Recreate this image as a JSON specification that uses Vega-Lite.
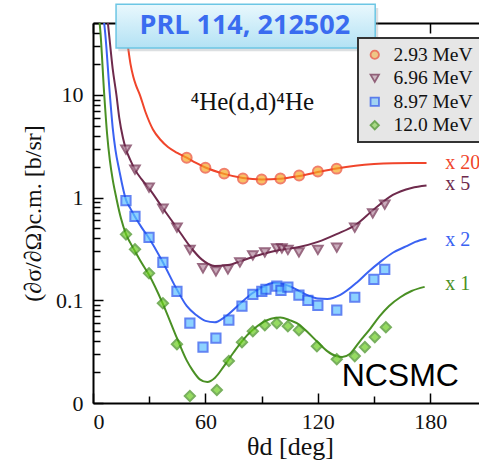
{
  "$schema": "https://vega.github.io/schema/vega-lite/v6.json",
  "width": 386,
  "height": 380,
  "autosize": "none",
  "padding": {"left": 93, "top": 23, "right": 0, "bottom": 66},
  "background": "white",
  "config": {
    "view": {"stroke": null},
    "axis": {"domainColor": "#000", "domainWidth": 2, "tickColor": "#000", "tickWidth": 1.5, "grid": false, "labelFont": "Liberation Serif, Times New Roman, DejaVu Serif, serif", "labelFontSize": 22, "labelColor": "#111", "titleFont": "Liberation Serif, Times New Roman, DejaVu Serif, serif", "titleFontWeight": "normal", "titleColor": "#111"},
    "legend": {"strokeWidth": 2}
  },
  "datasets": {
    "curves": [
      {"series": "2.93 MeV", "theta": 16.5, "xs": 58}, {"series": "2.93 MeV", "theta": 18.7, "xs": 29}, {"series": "2.93 MeV", "theta": 20, "xs": 20}, {"series": "2.93 MeV", "theta": 21.5, "xs": 15}, {"series": "2.93 MeV", "theta": 23, "xs": 12.3}, {"series": "2.93 MeV", "theta": 25, "xs": 10}, {"series": "2.93 MeV", "theta": 28, "xs": 6.8}, {"series": "2.93 MeV", "theta": 32, "xs": 4.6}, {"series": "2.93 MeV", "theta": 36, "xs": 3.65}, {"series": "2.93 MeV", "theta": 40, "xs": 3.1}, {"series": "2.93 MeV", "theta": 45, "xs": 2.72}, {"series": "2.93 MeV", "theta": 50, "xs": 2.44}, {"series": "2.93 MeV", "theta": 55, "xs": 2.17}, {"series": "2.93 MeV", "theta": 60, "xs": 1.96}, {"series": "2.93 MeV", "theta": 70, "xs": 1.7}, {"series": "2.93 MeV", "theta": 80, "xs": 1.55}, {"series": "2.93 MeV", "theta": 90, "xs": 1.5}, {"series": "2.93 MeV", "theta": 100, "xs": 1.52}, {"series": "2.93 MeV", "theta": 110, "xs": 1.62}, {"series": "2.93 MeV", "theta": 120, "xs": 1.77}, {"series": "2.93 MeV", "theta": 130, "xs": 1.92}, {"series": "2.93 MeV", "theta": 140, "xs": 2.04}, {"series": "2.93 MeV", "theta": 150, "xs": 2.12}, {"series": "2.93 MeV", "theta": 160, "xs": 2.16}, {"series": "2.93 MeV", "theta": 170, "xs": 2.17}, {"series": "2.93 MeV", "theta": 178, "xs": 2.17},
      {"series": "6.96 MeV", "theta": 7.5, "xs": 60}, {"series": "6.96 MeV", "theta": 8.5, "xs": 40}, {"series": "6.96 MeV", "theta": 10.5, "xs": 18}, {"series": "6.96 MeV", "theta": 12.5, "xs": 10}, {"series": "6.96 MeV", "theta": 14, "xs": 6}, {"series": "6.96 MeV", "theta": 16, "xs": 3.8}, {"series": "6.96 MeV", "theta": 17.6, "xs": 2.95}, {"series": "6.96 MeV", "theta": 20, "xs": 2.3}, {"series": "6.96 MeV", "theta": 22.4, "xs": 1.87}, {"series": "6.96 MeV", "theta": 26, "xs": 1.5}, {"series": "6.96 MeV", "theta": 30, "xs": 1.22}, {"series": "6.96 MeV", "theta": 37, "xs": 0.8}, {"series": "6.96 MeV", "theta": 45, "xs": 0.5}, {"series": "6.96 MeV", "theta": 52, "xs": 0.33}, {"series": "6.96 MeV", "theta": 58, "xs": 0.25}, {"series": "6.96 MeV", "theta": 65, "xs": 0.215}, {"series": "6.96 MeV", "theta": 72, "xs": 0.22}, {"series": "6.96 MeV", "theta": 80, "xs": 0.245}, {"series": "6.96 MeV", "theta": 90, "xs": 0.28}, {"series": "6.96 MeV", "theta": 100, "xs": 0.31}, {"series": "6.96 MeV", "theta": 110, "xs": 0.33}, {"series": "6.96 MeV", "theta": 120, "xs": 0.37}, {"series": "6.96 MeV", "theta": 130, "xs": 0.44}, {"series": "6.96 MeV", "theta": 140, "xs": 0.54}, {"series": "6.96 MeV", "theta": 150, "xs": 0.77}, {"series": "6.96 MeV", "theta": 160, "xs": 1.06}, {"series": "6.96 MeV", "theta": 170, "xs": 1.24}, {"series": "6.96 MeV", "theta": 178, "xs": 1.31},
      {"series": "8.97 MeV", "theta": 5.5, "xs": 60}, {"series": "8.97 MeV", "theta": 6.5, "xs": 40}, {"series": "8.97 MeV", "theta": 9, "xs": 10}, {"series": "8.97 MeV", "theta": 10.5, "xs": 4.8}, {"series": "8.97 MeV", "theta": 12, "xs": 2.9}, {"series": "8.97 MeV", "theta": 14, "xs": 1.85}, {"series": "8.97 MeV", "theta": 17.6, "xs": 0.95}, {"series": "8.97 MeV", "theta": 20, "xs": 0.78}, {"series": "8.97 MeV", "theta": 22.4, "xs": 0.65}, {"series": "8.97 MeV", "theta": 26, "xs": 0.51}, {"series": "8.97 MeV", "theta": 30, "xs": 0.4}, {"series": "8.97 MeV", "theta": 37, "xs": 0.24}, {"series": "8.97 MeV", "theta": 45, "xs": 0.125}, {"series": "8.97 MeV", "theta": 50, "xs": 0.088}, {"series": "8.97 MeV", "theta": 55, "xs": 0.072}, {"series": "8.97 MeV", "theta": 60, "xs": 0.063}, {"series": "8.97 MeV", "theta": 65, "xs": 0.061}, {"series": "8.97 MeV", "theta": 70, "xs": 0.068}, {"series": "8.97 MeV", "theta": 78, "xs": 0.091}, {"series": "8.97 MeV", "theta": 85, "xs": 0.117}, {"series": "8.97 MeV", "theta": 90, "xs": 0.133}, {"series": "8.97 MeV", "theta": 96, "xs": 0.147}, {"series": "8.97 MeV", "theta": 100, "xs": 0.146}, {"series": "8.97 MeV", "theta": 105, "xs": 0.137}, {"series": "8.97 MeV", "theta": 110, "xs": 0.123}, {"series": "8.97 MeV", "theta": 115, "xs": 0.111}, {"series": "8.97 MeV", "theta": 120, "xs": 0.104}, {"series": "8.97 MeV", "theta": 125, "xs": 0.103}, {"series": "8.97 MeV", "theta": 132, "xs": 0.113}, {"series": "8.97 MeV", "theta": 141, "xs": 0.15}, {"series": "8.97 MeV", "theta": 147, "xs": 0.19}, {"series": "8.97 MeV", "theta": 153, "xs": 0.234}, {"series": "8.97 MeV", "theta": 160, "xs": 0.29}, {"series": "8.97 MeV", "theta": 167, "xs": 0.334}, {"series": "8.97 MeV", "theta": 172, "xs": 0.37}, {"series": "8.97 MeV", "theta": 178, "xs": 0.4},
      {"series": "12.0 MeV", "theta": 3.2, "xs": 60}, {"series": "12.0 MeV", "theta": 4, "xs": 40}, {"series": "12.0 MeV", "theta": 6, "xs": 10}, {"series": "12.0 MeV", "theta": 7.5, "xs": 4.2}, {"series": "12.0 MeV", "theta": 9, "xs": 2.3}, {"series": "12.0 MeV", "theta": 10.5, "xs": 1.5}, {"series": "12.0 MeV", "theta": 12.5, "xs": 0.98}, {"series": "12.0 MeV", "theta": 15, "xs": 0.62}, {"series": "12.0 MeV", "theta": 17.6, "xs": 0.44}, {"series": "12.0 MeV", "theta": 20, "xs": 0.36}, {"series": "12.0 MeV", "theta": 22.4, "xs": 0.3}, {"series": "12.0 MeV", "theta": 26, "xs": 0.23}, {"series": "12.0 MeV", "theta": 30, "xs": 0.175}, {"series": "12.0 MeV", "theta": 37, "xs": 0.095}, {"series": "12.0 MeV", "theta": 45, "xs": 0.042}, {"series": "12.0 MeV", "theta": 50, "xs": 0.026}, {"series": "12.0 MeV", "theta": 53, "xs": 0.021}, {"series": "12.0 MeV", "theta": 57, "xs": 0.017}, {"series": "12.0 MeV", "theta": 61, "xs": 0.016}, {"series": "12.0 MeV", "theta": 65, "xs": 0.0175}, {"series": "12.0 MeV", "theta": 70, "xs": 0.023}, {"series": "12.0 MeV", "theta": 75, "xs": 0.031}, {"series": "12.0 MeV", "theta": 80, "xs": 0.041}, {"series": "12.0 MeV", "theta": 85, "xs": 0.051}, {"series": "12.0 MeV", "theta": 90, "xs": 0.06}, {"series": "12.0 MeV", "theta": 95, "xs": 0.066}, {"series": "12.0 MeV", "theta": 100, "xs": 0.068}, {"series": "12.0 MeV", "theta": 105, "xs": 0.064}, {"series": "12.0 MeV", "theta": 110, "xs": 0.058}, {"series": "12.0 MeV", "theta": 115, "xs": 0.048}, {"series": "12.0 MeV", "theta": 120, "xs": 0.039}, {"series": "12.0 MeV", "theta": 125, "xs": 0.032}, {"series": "12.0 MeV", "theta": 130, "xs": 0.0285}, {"series": "12.0 MeV", "theta": 133, "xs": 0.028}, {"series": "12.0 MeV", "theta": 137, "xs": 0.03}, {"series": "12.0 MeV", "theta": 142, "xs": 0.039}, {"series": "12.0 MeV", "theta": 148, "xs": 0.053}, {"series": "12.0 MeV", "theta": 153, "xs": 0.07}, {"series": "12.0 MeV", "theta": 158, "xs": 0.088}, {"series": "12.0 MeV", "theta": 164, "xs": 0.107}, {"series": "12.0 MeV", "theta": 170, "xs": 0.123}, {"series": "12.0 MeV", "theta": 177, "xs": 0.135}
    ],
    "points": [
      {"series": "2.93 MeV", "theta": 50, "xs": 2.44}, {"series": "2.93 MeV", "theta": 60, "xs": 1.95}, {"series": "2.93 MeV", "theta": 70, "xs": 1.71}, {"series": "2.93 MeV", "theta": 80, "xs": 1.53}, {"series": "2.93 MeV", "theta": 90, "xs": 1.5}, {"series": "2.93 MeV", "theta": 100, "xs": 1.53}, {"series": "2.93 MeV", "theta": 110, "xs": 1.64}, {"series": "2.93 MeV", "theta": 120, "xs": 1.79}, {"series": "2.93 MeV", "theta": 130, "xs": 1.91},
      {"series": "6.96 MeV", "theta": 17.6, "xs": 2.92}, {"series": "6.96 MeV", "theta": 22.4, "xs": 1.87}, {"series": "6.96 MeV", "theta": 29.9, "xs": 1.25}, {"series": "6.96 MeV", "theta": 37.3, "xs": 0.78}, {"series": "6.96 MeV", "theta": 44.8, "xs": 0.51}, {"series": "6.96 MeV", "theta": 51.7, "xs": 0.31}, {"series": "6.96 MeV", "theta": 58.7, "xs": 0.205}, {"series": "6.96 MeV", "theta": 65.6, "xs": 0.191}, {"series": "6.96 MeV", "theta": 72, "xs": 0.2}, {"series": "6.96 MeV", "theta": 78.4, "xs": 0.234}, {"series": "6.96 MeV", "theta": 85.3, "xs": 0.274}, {"series": "6.96 MeV", "theta": 91.7, "xs": 0.292}, {"series": "6.96 MeV", "theta": 98.1, "xs": 0.32}, {"series": "6.96 MeV", "theta": 100.8, "xs": 0.32}, {"series": "6.96 MeV", "theta": 104, "xs": 0.31}, {"series": "6.96 MeV", "theta": 109.9, "xs": 0.292}, {"series": "6.96 MeV", "theta": 120, "xs": 0.31}, {"series": "6.96 MeV", "theta": 130.1, "xs": 0.325}, {"series": "6.96 MeV", "theta": 139.7, "xs": 0.51}, {"series": "6.96 MeV", "theta": 149.3, "xs": 0.7}, {"series": "6.96 MeV", "theta": 155.7, "xs": 0.855},
      {"series": "8.97 MeV", "theta": 17.6, "xs": 0.935}, {"series": "8.97 MeV", "theta": 22.4, "xs": 0.655}, {"series": "8.97 MeV", "theta": 29.9, "xs": 0.41}, {"series": "8.97 MeV", "theta": 37.3, "xs": 0.234}, {"series": "8.97 MeV", "theta": 44.8, "xs": 0.122}, {"series": "8.97 MeV", "theta": 51.7, "xs": 0.0598}, {"series": "8.97 MeV", "theta": 58.7, "xs": 0.035}, {"series": "8.97 MeV", "theta": 65.6, "xs": 0.0428}, {"series": "8.97 MeV", "theta": 72.5, "xs": 0.064}, {"series": "8.97 MeV", "theta": 79.5, "xs": 0.0875}, {"series": "8.97 MeV", "theta": 85.3, "xs": 0.114}, {"series": "8.97 MeV", "theta": 90.1, "xs": 0.122}, {"series": "8.97 MeV", "theta": 92.3, "xs": 0.128}, {"series": "8.97 MeV", "theta": 98.1, "xs": 0.137}, {"series": "8.97 MeV", "theta": 100.3, "xs": 0.125}, {"series": "8.97 MeV", "theta": 104, "xs": 0.134}, {"series": "8.97 MeV", "theta": 109.9, "xs": 0.112}, {"series": "8.97 MeV", "theta": 114.7, "xs": 0.1}, {"series": "8.97 MeV", "theta": 120, "xs": 0.0893}, {"series": "8.97 MeV", "theta": 130.1, "xs": 0.08}, {"series": "8.97 MeV", "theta": 139.7, "xs": 0.107}, {"series": "8.97 MeV", "theta": 149.9, "xs": 0.16}, {"series": "8.97 MeV", "theta": 155.7, "xs": 0.2},
      {"series": "12.0 MeV", "theta": 17.6, "xs": 0.438}, {"series": "12.0 MeV", "theta": 22.4, "xs": 0.313}, {"series": "12.0 MeV", "theta": 29.9, "xs": 0.183}, {"series": "12.0 MeV", "theta": 37.3, "xs": 0.0936}, {"series": "12.0 MeV", "theta": 44.8, "xs": 0.0374}, {"series": "12.0 MeV", "theta": 51.7, "xs": 0.0117}, {"series": "12.0 MeV", "theta": 66.1, "xs": 0.0134}, {"series": "12.0 MeV", "theta": 72.5, "xs": 0.0256}, {"series": "12.0 MeV", "theta": 79.5, "xs": 0.0391}, {"series": "12.0 MeV", "theta": 85.3, "xs": 0.05}, {"series": "12.0 MeV", "theta": 91.7, "xs": 0.0572}, {"series": "12.0 MeV", "theta": 98.1, "xs": 0.0598}, {"series": "12.0 MeV", "theta": 104, "xs": 0.056}, {"series": "12.0 MeV", "theta": 109.9, "xs": 0.0512}, {"series": "12.0 MeV", "theta": 119.5, "xs": 0.0357}, {"series": "12.0 MeV", "theta": 130.1, "xs": 0.0267}, {"series": "12.0 MeV", "theta": 139.7, "xs": 0.0286}, {"series": "12.0 MeV", "theta": 145.1, "xs": 0.035}, {"series": "12.0 MeV", "theta": 150.4, "xs": 0.0438}, {"series": "12.0 MeV", "theta": 156.3, "xs": 0.0547}
    ],
    "multipliers": [
      {"series": "2.93 MeV", "label": "x 20", "theta": 188, "xs": 2.19},
      {"series": "6.96 MeV", "label": "x 5", "theta": 188, "xs": 1.34},
      {"series": "8.97 MeV", "label": "x 2", "theta": 188, "xs": 0.39},
      {"series": "12.0 MeV", "label": "x 1", "theta": 188, "xs": 0.143}
    ],
    "one": [{"k": 1}]
  },
  "resolve": {"axis": {"x": "independent", "y": "independent"}},
  "layer": [
    {
      "data": {"name": "curves"},
      "mark": {"type": "line", "strokeWidth": 2, "interpolate": "monotone", "clip": true},
      "encoding": {
        "x": {"field": "theta", "type": "quantitative", "scale": {"domain": [0, 206], "nice": false, "zero": false},
          "axis": {"orient": "bottom", "values": [0, 30, 60, 90, 120, 150, 180], "labelExpr": "datum.value % 60 == 0 ? datum.label : ''", "tickSize": {"condition": {"test": "datum.value % 60 == 0", "value": -10}, "value": -7}, "labelPadding": 18, "title": "θd [deg]", "titleFontSize": 26, "titleX": 197, "titleY": 43, "titleBaseline": "middle"}},
        "y": {"field": "xs", "type": "quantitative", "scale": {"type": "log", "domain": [0.01, 50], "nice": false},
          "axis": {"orient": "left", "values": [0.01, 0.02, 0.03, 0.04, 0.05, 0.06, 0.07, 0.08, 0.09, 0.1, 0.2, 0.3, 0.4, 0.5, 0.6, 0.7, 0.8, 0.9, 1, 2, 3, 4, 5, 6, 7, 8, 9, 10, 20, 30, 40, 50],
            "labelExpr": "datum.value == 0.01 ? '0' : datum.value == 0.1 ? '0.1' : datum.value == 1 ? '1' : datum.value == 10 ? '10' : ''",
            "tickSize": {"condition": {"test": "datum.value == 0.01 || datum.value == 0.1 || datum.value == 1 || datum.value == 10", "value": -10}, "value": -7},
            "labelPadding": 20, "title": "(∂σ/∂Ω)c.m. [b/sr]", "titleFontSize": 24, "titleX": -48, "titleY": 190, "titleBaseline": "bottom", "titleAngle": 270}},
        "color": {"field": "series", "type": "nominal", "scale": {"range": ["#4a9024", "#f0452b", "#6e2a4c", "#3a62f2"]}, "legend": null},
        "detail": {"field": "series"}
      }
    },
    {
      "data": {"name": "points"},
      "mark": {"type": "point", "filled": true, "strokeWidth": 2, "clip": true},
      "encoding": {
        "x": {"field": "theta", "type": "quantitative", "axis": {"orient": "top", "values": [0, 30, 60, 90, 120, 150, 180], "labels": false, "title": null, "tickSize": {"condition": {"test": "datum.value % 60 == 0", "value": -10}, "value": -7}}},
        "y": {"field": "xs", "type": "quantitative", "axis": null},
        "shape": {"field": "series", "type": "nominal", "scale": {"domain": ["2.93 MeV", "6.96 MeV", "8.97 MeV", "12.0 MeV"], "range": ["circle", "triangle-down", "square", "diamond"]},
          "legend": {"title": null, "orient": "none", "legendX": 265, "legendY": 15, "fillColor": "#e6e6e6", "strokeColor": "#333333", "padding": 7, "labelFont": "Liberation Serif, Times New Roman, DejaVu Serif, serif", "labelFontSize": 19.5, "labelColor": "#111", "symbolSize": 70, "symbolStrokeWidth": 1.8, "rowPadding": 2.5, "labelOffset": 9, "labelExpr": "datum.label + '\u2003\u2003'"}},
        "fill": {"field": "series", "type": "nominal", "scale": {"domain": ["2.93 MeV", "6.96 MeV", "8.97 MeV", "12.0 MeV"], "range": ["#f6a623", "#b58aa0", "#5cc0ff", "#6acd1f"]}},
        "stroke": {"field": "series", "type": "nominal", "scale": {"domain": ["2.93 MeV", "6.96 MeV", "8.97 MeV", "12.0 MeV"], "range": ["#ec4a2c", "#6e2a4c", "#1f50ee", "#3f8f1a"]}},
        "size": {"field": "series", "type": "nominal", "legend": null, "scale": {"range": [105, 85, 90, 55]}}
      }
    },
    {
      "data": {"name": "multipliers"},
      "mark": {"type": "text", "align": "left", "baseline": "middle", "font": "Liberation Serif, Times New Roman, DejaVu Serif, serif", "fontSize": 20, "clip": false},
      "encoding": {
        "x": {"field": "theta", "type": "quantitative", "axis": null},
        "y": {"field": "xs", "type": "quantitative", "axis": null},
        "text": {"field": "label"},
        "color": {"field": "series", "type": "nominal", "legend": null}
      }
    },
    {
      "data": {"name": "one"},
      "mark": {"type": "text", "align": "center", "baseline": "middle", "font": "Liberation Serif, Times New Roman, DejaVu Serif, serif", "fontSize": 25, "color": "#111", "text": "⁴He(d,d)⁴He"},
      "encoding": {"x": {"datum": 85, "type": "quantitative", "axis": null}, "y": {"datum": 8.6, "type": "quantitative", "axis": null}}
    },
    {
      "data": {"name": "one"},
      "mark": {"type": "text", "align": "center", "baseline": "middle", "font": "Liberation Sans, Arial, sans-serif", "fontSize": 32, "color": "#000", "text": "NCSMC"},
      "encoding": {"x": {"datum": 164, "type": "quantitative", "axis": null}, "y": {"datum": 0.0183, "type": "quantitative", "axis": null}}
    },
    {
      "data": {"name": "one"},
      "mark": {"type": "rect", "clip": false, "color": "#9aa4a8", "opacity": 0.35},
      "encoding": {"x": {"datum": 13.5, "type": "quantitative", "axis": null}, "x2": {"datum": 152.2}, "y": {"datum": 70, "type": "quantitative", "axis": null}, "y2": {"datum": 26.5}}
    },
    {
      "data": {"name": "one"},
      "mark": {"type": "rect", "clip": false, "stroke": "#6cc6e4", "strokeWidth": 1.5,
        "color": {"gradient": "linear", "x1": 0, "y1": 0, "x2": 0, "y2": 1, "stops": [{"offset": 0, "color": "#e9f8fd"}, {"offset": 1, "color": "#b3e2f4"}]}},
      "encoding": {"x": {"datum": 12.3, "type": "quantitative", "axis": null}, "x2": {"datum": 150.6}, "y": {"datum": 76, "type": "quantitative", "axis": null}, "y2": {"datum": 28.6}}
    },
    {
      "data": {"name": "one"},
      "mark": {"type": "text", "align": "center", "baseline": "middle", "font": "Open Sans, Lato, sans-serif", "fontWeight": "bold", "fontSize": 27, "color": "#3a6cf0", "text": "PRL 114, 212502", "clip": false},
      "encoding": {"x": {"datum": 81, "type": "quantitative", "axis": null}, "y": {"datum": 46.8, "type": "quantitative", "axis": null}}
    }
  ]
}
